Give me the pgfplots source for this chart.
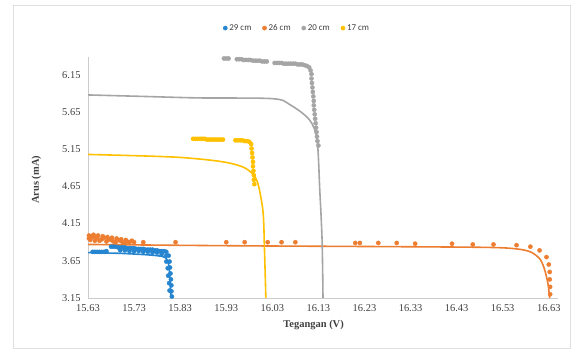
\documentclass[border=0pt]{standalone}
\usepackage{pgfplots}
\pgfplotsset{compat=1.18}
\usepackage{fontspec}
\setmainfont{Liberation Serif}
\newfontfamily\legfont{Carlito}
\definecolor{cblue}{HTML}{2585D0}
\definecolor{corange}{HTML}{ED7D31}
\definecolor{cgray}{HTML}{A5A5A5}
\definecolor{cyellow}{HTML}{FFC000}
\definecolor{txt}{HTML}{404040}
\begin{document}
\begin{tikzpicture}
\path (0,0) rectangle (578bp,358bp);
\draw[gray!25] (13bp,10bp) rectangle (570bp,353bp);
\begin{axis}[
  at={(88bp,60bp)}, anchor=south west,
  scale only axis, width=470bp, height=241bp,
  xmin=15.63, xmax=16.65, ymin=3.15, ymax=6.39,
  clip=false,
  axis x line=bottom, axis y line=left,
  axis line style={-, draw=gray!40},
  major tick length=0pt,
  xtick={15.63,15.73,15.83,15.93,16.03,16.13,16.23,16.33,16.43,16.53,16.63},
  xticklabels={15.63,15.73,15.83,15.93,16.03,16.13,16.23,16.33,16.43,16.53,16.63},
  ytick={3.15,3.65,4.15,4.65,5.15,5.65,6.15},
  yticklabels={3.15,3.65,4.15,4.65,5.15,5.65,6.15},
  tick label style={font=\fontsize{10.5}{12}\selectfont, text=txt},
  xticklabel style={yshift=-3bp},
  yticklabel style={xshift=-4bp},
  xlabel={\textbf{Tegangan (V)}},
  ylabel={\textbf{Arus (mA)}},
  label style={font=\fontsize{10.5}{12}\selectfont, text=txt},
  xlabel style={at={(axis description cs:0.48,-0.112)}, anchor=center},
  ylabel style={at={(axis description cs:-0.11,0.49)}, anchor=center},
  legend style={at={(0.445,1.12)}, anchor=center, draw=none, fill=none,
    font=\legfont\fontsize{9}{10}\selectfont, text=txt, legend columns=4,
    /tikz/every even column/.append style={column sep=9bp}},
  legend image code/.code={\draw[#1] plot coordinates {(0.12cm,0cm)};},
  legend cell align=left,
]
% markers
\addplot[only marks, mark=*, mark size=2.1, color=cblue] coordinates {
(15.64,3.77)(15.645,3.77)(15.65,3.77)(15.655,3.77)(15.66,3.77)(15.665,3.77)(15.67,3.78)
(15.68,3.84)(15.685,3.84)(15.69,3.84)(15.695,3.83)(15.70,3.83)(15.705,3.83)(15.71,3.83)(15.715,3.82)(15.72,3.82)(15.725,3.82)(15.73,3.82)(15.735,3.81)(15.74,3.81)(15.745,3.81)(15.75,3.81)(15.755,3.80)(15.76,3.80)(15.765,3.80)(15.77,3.80)(15.775,3.79)(15.78,3.79)(15.785,3.78)(15.79,3.78)(15.795,3.78)(15.80,3.77)
(15.805,3.72)(15.807,3.64)(15.808,3.56)(15.809,3.48)(15.81,3.40)(15.811,3.32)(15.811,3.24)(15.812,3.17)
(15.70,3.79)(15.71,3.79)(15.72,3.78)(15.73,3.78)(15.74,3.78)(15.75,3.77)(15.76,3.77)(15.77,3.76)(15.78,3.76)(15.79,3.74)(15.80,3.72)(15.80,3.64)(15.803,3.55)(15.804,3.45)(15.806,3.35)(15.807,3.25)
};
\addlegendentry{29 cm}
\addplot[only marks, mark=*, mark size=2.1, color=corange] coordinates {
(15.632,3.95)(15.632,3.99)(15.635,3.93)(15.637,3.98)(15.64,3.97)(15.642,4.00)(15.645,3.92)(15.648,3.97)(15.65,3.96)(15.652,3.99)(15.655,3.92)(15.66,3.94)(15.662,3.98)(15.665,3.96)(15.67,3.91)(15.672,3.97)(15.675,3.94)(15.68,3.93)(15.682,3.96)(15.685,3.91)(15.69,3.90)(15.692,3.95)(15.695,3.93)(15.70,3.92)(15.702,3.94)(15.705,3.90)(15.71,3.89)(15.712,3.93)(15.715,3.91)(15.72,3.90)(15.725,3.92)(15.73,3.90)
(15.75,3.90)(15.82,3.90)(15.93,3.90)(15.97,3.90)(16.02,3.90)(16.05,3.90)(16.08,3.90)(16.21,3.89)(16.22,3.89)(16.26,3.89)(16.30,3.89)(16.34,3.88)(16.42,3.88)(16.465,3.87)(16.51,3.87)(16.56,3.86)(16.59,3.84)(16.61,3.79)(16.625,3.70)(16.63,3.60)(16.632,3.50)(16.632,3.40)(16.633,3.30)(16.633,3.20)
};
\addlegendentry{26 cm}
\addplot[only marks, mark=*, mark size=2.1, color=cgray] coordinates {
(15.925,6.37)(15.93,6.37)(15.935,6.37)
(15.953,6.36)(15.958,6.36)(15.963,6.36)(15.968,6.35)(15.973,6.35)(15.978,6.35)(15.983,6.35)(15.988,6.34)(15.993,6.34)(15.998,6.34)(16.003,6.34)(16.008,6.33)(16.013,6.33)(16.018,6.33)
(16.035,6.31)(16.04,6.31)(16.045,6.31)(16.05,6.31)(16.055,6.30)(16.06,6.30)(16.065,6.30)(16.07,6.30)(16.075,6.30)(16.08,6.30)(16.085,6.29)(16.09,6.29)(16.095,6.29)(16.10,6.28)(16.105,6.27)(16.11,6.25)(16.113,6.21)(16.115,6.16)(16.115,6.10)(16.116,6.04)(16.117,5.98)(16.118,5.92)(16.119,5.86)(16.12,5.80)(16.12,5.74)(16.121,5.68)(16.122,5.62)(16.123,5.56)(16.124,5.50)(16.125,5.44)(16.126,5.38)(16.127,5.32)(16.128,5.26)(16.13,5.20)
};
\addlegendentry{20 cm}
\addplot[only marks, mark=*, mark size=2.1, color=cyellow] coordinates {
(15.858,5.29)(15.863,5.29)(15.868,5.29)(15.873,5.29)(15.878,5.29)(15.883,5.29)(15.888,5.28)(15.893,5.28)(15.898,5.28)(15.903,5.28)(15.908,5.28)(15.913,5.28)(15.918,5.28)(15.923,5.28)
(15.95,5.27)(15.955,5.27)(15.96,5.27)(15.965,5.27)(15.97,5.26)(15.975,5.26)(15.98,5.25)(15.984,5.22)(15.985,5.16)(15.986,5.10)(15.987,5.04)(15.988,4.98)(15.988,4.92)(15.989,4.86)(15.99,4.80)(15.99,4.74)(15.991,4.68)
};
\addlegendentry{17 cm}
% trend lines
\addplot[forget plot, no marks, smooth, line width=1.6pt, color=cblue] coordinates {
(15.63,3.76)(15.70,3.75)(15.76,3.73)(15.79,3.71)(15.80,3.68)(15.805,3.60)(15.808,3.40)(15.81,3.15)
};
\addplot[forget plot, no marks, smooth, line width=1.6pt, color=corange] coordinates {
(15.63,3.87)(15.8,3.86)(16.0,3.85)(16.3,3.84)(16.5,3.83)(16.56,3.81)(16.59,3.77)(16.61,3.68)(16.62,3.55)(16.628,3.35)(16.632,3.15)
};
\addplot[forget plot, no marks, smooth, line width=1.6pt, color=cgray] coordinates {
(15.63,5.88)(15.75,5.86)(15.87,5.84)(16.03,5.83)(16.068,5.75)(16.11,5.55)(16.127,5.28)(16.133,4.60)(16.138,3.93)(16.14,3.15)
};
\addplot[forget plot, no marks, smooth, line width=1.6pt, color=cyellow] coordinates {
(15.63,5.08)(15.75,5.06)(15.83,5.04)(15.90,5.00)(15.94,4.96)(15.97,4.90)(15.99,4.80)(16.0,4.66)(16.01,4.30)(16.013,3.80)(16.016,3.15)
};
\end{axis}
\end{tikzpicture}
\end{document}
